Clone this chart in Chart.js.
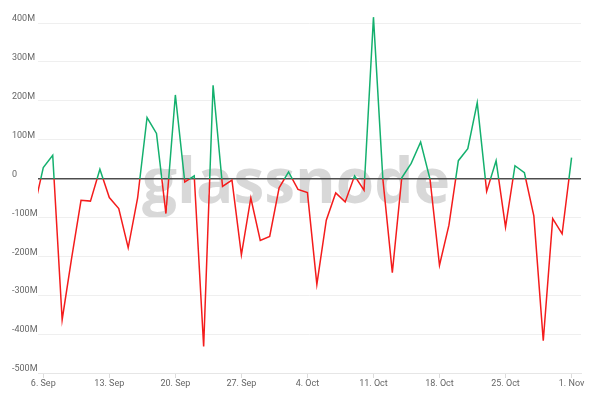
<!DOCTYPE html>
<html>
<head>
<meta charset="utf-8">
<script src="https://cdn.jsdelivr.net/npm/chart.js@4.4.1/dist/chart.umd.min.js"></script>
<style>
  html, body { margin: 0; padding: 0; background: #ffffff; }
  #wrap { width: 589px; height: 398px; position: relative; }
</style>
</head>
<body>
<div id="wrap"><canvas id="c" width="589" height="398"></canvas></div>
<script>
// ---- data (values in millions) ----
const dates = [
  '2021-09-05','2021-09-06','2021-09-07','2021-09-08','2021-09-09','2021-09-10','2021-09-11','2021-09-12',
  '2021-09-13','2021-09-14','2021-09-15','2021-09-16','2021-09-17','2021-09-18','2021-09-19','2021-09-20',
  '2021-09-21','2021-09-22','2021-09-23','2021-09-24','2021-09-25','2021-09-26','2021-09-27','2021-09-28',
  '2021-09-29','2021-09-30','2021-10-01','2021-10-02','2021-10-03','2021-10-04','2021-10-05','2021-10-06',
  '2021-10-07','2021-10-08','2021-10-09','2021-10-10','2021-10-11','2021-10-12','2021-10-13','2021-10-14',
  '2021-10-15','2021-10-16','2021-10-17','2021-10-18','2021-10-19','2021-10-20','2021-10-21','2021-10-22',
  '2021-10-23','2021-10-24','2021-10-25','2021-10-26','2021-10-27','2021-10-28','2021-10-29','2021-10-30',
  '2021-10-31','2021-11-01'
];
const netflowM = [
  -80, 28, 60, -363, -205, -56, -58, 24,
  -49, -77, -178, -50, 157, 116, -90, 215,
  -9, 7, -432, 240, -20, -4, -196, -50,
  -159, -149, -24, 17, -28, -36, -272, -107,
  -37, -60, 7, -30, 415, -2, -242, 2,
  39, 94, -2, -223, -120, 46, 77, 195,
  -33, 46, -125, 33, 15, -96, -417, -103,
  -142, 54
];
const tickLabels = ['6. Sep','13. Sep','20. Sep','27. Sep','4. Oct','11. Oct','18. Oct','25. Oct','1. Nov'];
const tickDates  = ['2021-09-06','2021-09-13','2021-09-20','2021-09-27','2021-10-04','2021-10-11','2021-10-18','2021-10-25','2021-11-01'];
const yTicksM = [-500,-400,-300,-200,-100,0,100,200,300,400];

const GREEN = '#14b06e';
const RED = '#f41c1c';
const DAY = 86400000;
const base = Date.parse('2021-09-06T00:00:00Z');
const toDay = s => (Date.parse(s + 'T00:00:00Z') - base) / DAY;

const points = dates.map((d, i) => ({ x: toDay(d), y: netflowM[i] * 1e6 }));
const tickDays = tickDates.map(toDay);

const watermark = {
  id: 'watermark',
  beforeDraw(chart) {
    const ctx = chart.ctx;
    ctx.save();
    ctx.font = 'bold 62px "Open Sans", sans-serif';
    ctx.fillStyle = 'rgba(200,200,200,0.7)';
    ctx.textAlign = 'center';
    ctx.textBaseline = 'alphabetic';
    ctx.fillText('glassnode', 296, 203);
    ctx.restore();
  }
};

function splitColor(context) {
  const chart = context.chart;
  const area = chart.chartArea;
  if (!area) return GREEN;
  const y0 = chart.scales.y.getPixelForValue(0);
  const h = chart.height;
  const g = chart.ctx.createLinearGradient(0, 0, 0, h);
  const s = Math.min(Math.max(y0 / h, 0), 1);
  g.addColorStop(0, GREEN);
  g.addColorStop(s, GREEN);
  g.addColorStop(s, RED);
  g.addColorStop(1, RED);
  return g;
}

new Chart(document.getElementById('c'), {
  type: 'line',
  data: {
    datasets: [{
      data: points,
      borderColor: splitColor,
      borderWidth: 1.5,
      pointRadius: 0,
      tension: 0,
      fill: false,
      clip: { left: 0, right: 0, top: false, bottom: 0 }
    }]
  },
  plugins: [watermark],
  options: {
    responsive: false,
    animation: false,
    devicePixelRatio: 1,
    layout: { padding: { left: 12, right: 8, top: 23, bottom: 0 } },
    plugins: { legend: { display: false }, tooltip: { enabled: false } },
    scales: {
      x: {
        type: 'linear',
        min: -0.56,
        max: 57.0,
        afterBuildTicks(scale) { scale.ticks = tickDays.map(v => ({ value: v })); },
        afterFit(scale) { scale.height = 25; },
        ticks: {
          autoSkip: false,
          maxRotation: 0,
          padding: 0,
          color: '#666666',
          font: { family: 'Roboto', size: 9 },
          callback: (v) => { const i = tickDays.indexOf(v); return i >= 0 ? tickLabels[i] : ''; }
        },
        grid: { drawOnChartArea: false, drawTicks: true, tickLength: 5, color: '#dcdcdc' },
        border: { display: true, color: '#e6e6e6', width: 1 }
      },
      y: {
        type: 'linear',
        min: -500e6,
        max: 400e6,
        afterBuildTicks(scale) { scale.ticks = yTicksM.map(v => ({ value: v * 1e6 })); },
        afterFit(scale) { scale.width = 26; },
        ticks: {
          crossAlign: 'far',
          padding: 0,
          labelOffset: -4,
          color: '#666666',
          font: { family: 'Roboto', size: 9 },
          callback: (v) => v === 0 ? '0' : (v / 1e6) + 'M'
        },
        grid: {
          drawTicks: false,
          color: (c) => (c.tick && c.tick.value === 0) ? '#4d4d4d' : '#efefef',
          lineWidth: (c) => (c.tick && c.tick.value === 0) ? 1.5 : 1
        },
        border: { display: false }
      }
    }
  }
});
</script>
</body>
</html>
